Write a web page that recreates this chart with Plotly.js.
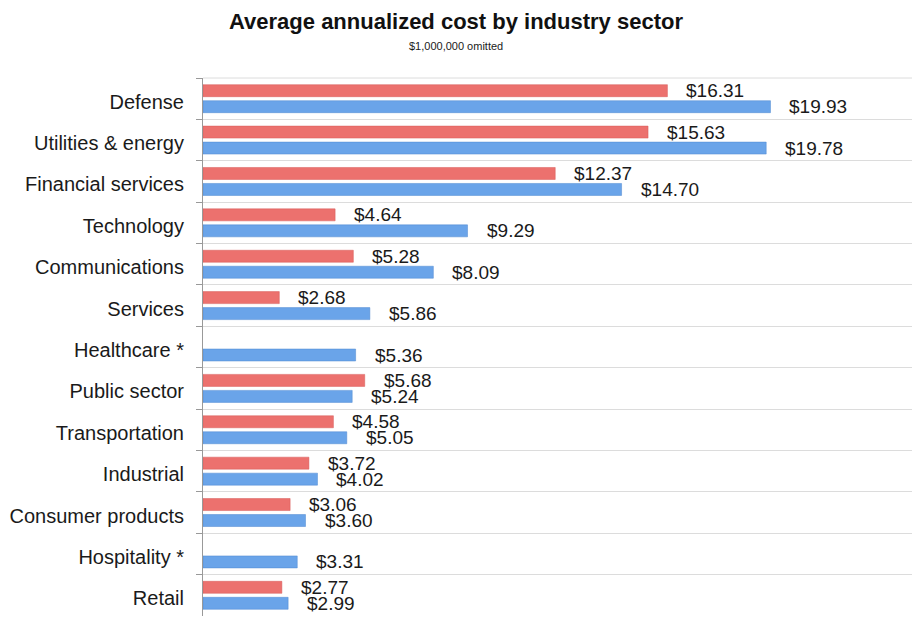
<!DOCTYPE html>
<html>
<head>
<meta charset="utf-8">
<script src="https://cdn.plot.ly/plotly-3.0.1.min.js"></script>
<style>html,body{margin:0;padding:0;background:#fff;}#chart{width:912px;height:617px;}</style>
</head>
<body>
<div id="chart"></div>
<script>
var categories = ["Defense","Utilities & energy","Financial services","Technology","Communications","Services","Healthcare *","Public sector","Transportation","Industrial","Consumer products","Hospitality *","Retail"];
var redValues  = [16.31, 15.63, 12.37, 4.64, 5.28, 2.68, null, 5.68, 4.58, 3.72, 3.06, null, 2.77];
var blueValues = [19.93, 19.78, 14.70, 9.29, 8.09, 5.86, 5.36, 5.24, 5.05, 4.02, 3.60, 3.31, 2.99];

var titleText = "Average annualized cost by industry sector";
var subtitleText = "$1,000,000 omitted";

var FONT = "Liberation Sans, Arial, sans-serif";
var RED = "#ec716e";
var BLUE = "#6aa4e9";

function fmt(v){ return "$" + v.toFixed(2); }

var traces = [
  {type:"bar", orientation:"h", y:categories, x:redValues, name:"red",
   marker:{color:RED, line:{color:"#d65a58", width:0.5}}, hoverinfo:"x+y"},
  {type:"bar", orientation:"h", y:categories, x:blueValues, name:"blue",
   marker:{color:BLUE, line:{color:"#4f88d0", width:0.5}}, hoverinfo:"x+y"}
];

var annotations = [];
function addLabels(vals, shift){
  vals.forEach(function(v,i){
    if(v === null) return;
    annotations.push({x:v, y:categories[i], xref:"x", yref:"y", text:fmt(v),
      showarrow:false, xanchor:"left", yanchor:"middle", xshift:17, yshift:shift,
      font:{family:FONT, size:19, color:"#1a1a1a"}});
  });
}
addLabels(redValues, 8);
addLabels(blueValues, -8);

annotations.push({xref:"paper", yref:"paper", x:(456-203)/709, y:1, yshift:32,
  xanchor:"center", yanchor:"middle", showarrow:false, text:subtitleText,
  font:{family:FONT, size:11, color:"#1a1a1a"}});

var layout = {
  width:912, height:617,
  margin:{l:203, r:0, t:78, b:1, pad:0},
  paper_bgcolor:"#fff", plot_bgcolor:"#fff",
  showlegend:false,
  barmode:"group", bargap:0.227, bargroupgap:0.25,
  title:{text:"<b>"+titleText+"</b>", x:0.5, xref:"container", xanchor:"center",
         y:1-21/617, yref:"container", yanchor:"middle",
         font:{family:FONT, size:22, color:"#111"}},
  xaxis:{range:[0,24.9], showgrid:false, zeroline:false, showticklabels:false,
         ticks:"", showline:false, fixedrange:true},
  yaxis:{type:"category", autorange:"reversed", tickson:"boundaries",
         ticks:"outside", ticklen:6, tickcolor:"#999", showline:true, linecolor:"#999", linewidth:1,
         showgrid:true, gridcolor:"#dcdcdc", gridwidth:1, zeroline:false,
         ticklabelstandoff:14, ticklabelshift:-3,
         tickfont:{family:FONT, size:20, color:"#1a1a1a"}},
  shapes:[{type:"line", xref:"paper", yref:"paper", x0:0, x1:1, y0:1, y1:1,
           line:{color:"#dcdcdc", width:1}, layer:"below"}],
  annotations:annotations
};

Plotly.newPlot("chart", traces, layout, {displayModeBar:false, staticPlot:true});
</script>
</body>
</html>
